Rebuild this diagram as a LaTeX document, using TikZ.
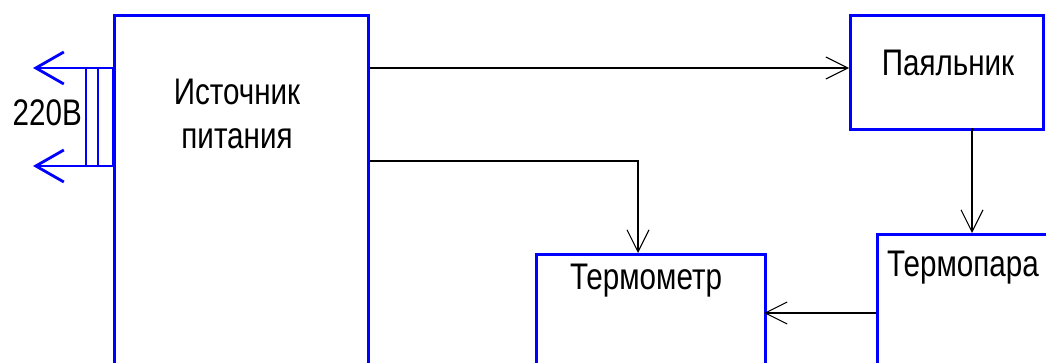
\documentclass[tikz,border=0pt]{standalone}
\usepackage{fontspec}
\setmainfont{Liberation Sans}[FakeStretch=0.8]
\usetikzlibrary{arrows.meta}
\definecolor{bblue}{RGB}{0,0,255}
\tikzset{
  blk/.style={draw=bblue, line width=3pt},
  lbl/.style={font=\fontsize{37}{44}\selectfont, text=black, inner sep=0pt, align=center},
  arr/.style={draw=black, line width=1.2pt, -{Straight Barb[length=22pt,width=22pt,line width=1.1pt]}},
  barr/.style={draw=bblue, line width=2.8pt, -{Straight Barb[length=28pt,width=32pt,line width=2.8pt]}},
  conn/.style={draw=bblue, line width=2.2pt}
}
\begin{document}
\begin{tikzpicture}[x=1pt,y=-1pt]
\useasboundingbox (0,0) rectangle (1046,363);
\clip (0,0) rectangle (1046,363);
% boxes
\node[blk, anchor=north west, minimum width=254pt, minimum height=380pt, inner sep=0pt] (src) at (113,14) {};
\node[blk, anchor=north west, minimum width=193pt, minimum height=114pt, inner sep=0pt] (pay) at (849,14) {};
\node[blk, anchor=north west, minimum width=200pt, minimum height=160pt, inner sep=0pt] (tpara) at (876,233) {};
\node[blk, anchor=north west, minimum width=229pt, minimum height=140pt, inner sep=0pt] (tmeter) at (535,253) {};
% texts
\node[lbl] (srct) at (237,114) {Источник\\питания};
\node[lbl] (payt) at (948,63) {Паяльник};
\node[lbl, anchor=west] (tparat) at (887,268) {Термопара};
\node[lbl] (tmetert) at (646,281) {Термометр};
\node[lbl, anchor=east] (v220) at (82,113) {220В};
% connection points
\coordinate (s1) at (src.north east |- 0,68);
\coordinate (s2) at (src.north east |- 0,161);
\coordinate (m1) at (638,253);
\coordinate (p1) at (972,128);
\coordinate (q1) at (972,233);
\coordinate (t1) at (876,313);
\coordinate (t2) at (764,313);
\draw[arr] (s1) -- (s1 -| pay.west);
\draw[arr] (s2) -| (m1);
\draw[arr] (p1) -- (q1);
\draw[arr] (t1) -- (t2);
% 220V connector
\coordinate (c1) at (113,68);
\coordinate (c2) at (113,166);
\coordinate (a1) at (33,68);
\coordinate (a2) at (33,166);
\draw[conn] (86,68) rectangle (113,166);
\draw[conn] (98,68) -- (98,166);
\draw[barr] (c1) -- (a1);
\draw[barr] (c2) -- (a2);
\end{tikzpicture}
\end{document}
